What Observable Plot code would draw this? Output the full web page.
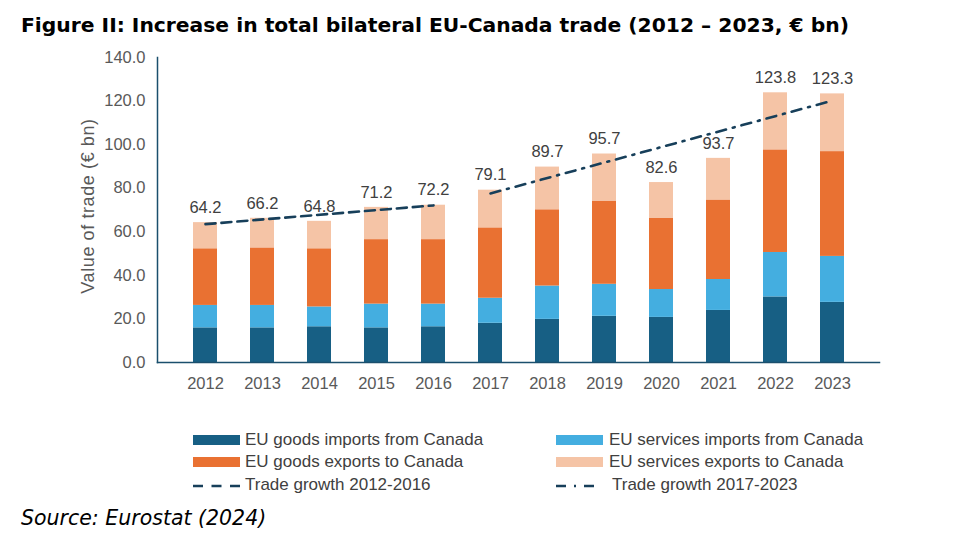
<!DOCTYPE html>
<html>
<head>
<meta charset="utf-8">
<script src="https://cdn.jsdelivr.net/npm/d3@7"></script>
<script src="https://cdn.jsdelivr.net/npm/@observablehq/plot@0.6"></script>
<style>
  body { margin: 0; background: #fff; }
  #wrap { position: relative; width: 957px; height: 544px; overflow: hidden; }
  #title { position: absolute; left: 21px; top: 13px; font-family: "DejaVu Sans", Verdana, sans-serif; font-weight: bold; font-size: 20.3px; color: #000; white-space: nowrap; }
  #chart { position: absolute; left: 0; top: 0; }
  #ylabel { position: absolute; left: 88px; top: 206px; transform: translate(-50%, -50%) rotate(-90deg); font-family: "Liberation Sans", Arial, sans-serif; font-size: 18px; letter-spacing: 0.6px; color: #595959; white-space: nowrap; }
  .leg { position: absolute; font-family: "Liberation Sans", Arial, sans-serif; font-size: 17px; color: #404040; white-space: nowrap; display: flex; align-items: center; }
  .sw { display: inline-block; width: 47px; height: 10px; }
  #source { position: absolute; left: 21px; top: 506px; font-family: "DejaVu Sans", Verdana, sans-serif; font-style: italic; font-size: 20.5px; color: #000; white-space: nowrap; }
</style>
</head>
<body>
<div id="wrap">
  <div id="chart"></div>
  <div id="title">Figure II: Increase in total bilateral EU-Canada trade (2012 – 2023, € bn)</div>
  <div id="ylabel">Value of trade (€ bn)</div>
  <div id="legend"></div>
  <div id="source">Source: Eurostat (2024)</div>
</div>
<script>
const years = ["2012","2013","2014","2015","2016","2017","2018","2019","2020","2021","2022","2023"];
const seriesNames = ["EU goods imports from Canada","EU services imports from Canada","EU goods exports to Canada","EU services exports to Canada"];
const seriesColors = ["#175f84","#44aee0","#e97132","#f5c4a6"];
const goodsImports    = [15.9,15.9,16.4,15.9,16.4,18.0,19.8,21.2,20.7,23.9,30.1,27.6];
const servicesImports = [10.3,10.3, 9.1,10.9,10.4,11.5,15.3,14.7,12.8,14.2,20.4,21.1];
const goodsExports    = [26.0,26.4,26.7,29.6,29.6,32.3,35.0,38.2,32.6,36.5,47.1,48.1];
const servicesExports = [12.0,13.6,12.6,14.8,15.8,17.3,19.6,21.6,16.5,19.1,26.2,26.5];
const totals          = [64.2,66.2,64.8,71.2,72.2,79.1,89.7,95.7,82.6,93.7,123.8,123.3];
const trend1Years  = ["2012","2016"];
const trend1Values = [63.5,72.1];
const trend2Years  = ["2017","2023"];
const trend2Values = [77.6,120.2];
const yTicks = [0,20,40,60,80,100,120,140];
const trendNames = ["Trade growth 2012-2016","Trade growth 2017-2023"];

const seriesValues = [goodsImports, servicesImports, goodsExports, servicesExports];
const bars = [];
seriesValues.forEach((vals, s) => vals.forEach((v, i) => bars.push({year: years[i], series: seriesNames[s], value: v})));
const totalRows = years.map((y, i) => ({year: y, total: totals[i]}));
const t1 = trend1Years.map((y, i) => ({year: y, value: trend1Values[i]}));
const t2 = trend2Years.map((y, i) => ({year: y, value: trend2Values[i]}));
const lineColor = "#173f5a";

const plot = Plot.plot({
  width: 957,
  height: 400,
  marginTop: 57,
  marginBottom: 38,
  marginLeft: 157,
  marginRight: 78,
  style: {fontFamily: "'Liberation Sans', Arial, sans-serif", fontSize: "16.5px", color: "#595959", background: "transparent"},
  x: {domain: years, padding: 0.585, label: null, tickSize: 0, tickPadding: 15},
  y: {domain: [0, 140], ticks: yTicks, tickFormat: d3.format(".1f"), label: null, tickSize: 0, tickPadding: 12},
  color: {domain: seriesNames, range: seriesColors},
  marks: [
    Plot.barY(bars, {x: "year", y: "value", fill: "series", order: seriesNames}),
    Plot.frame({anchor: "left", stroke: "#1b4f6d", strokeWidth: 1.5}),
    Plot.frame({anchor: "bottom", stroke: "#1b4f6d", strokeWidth: 1.5}),
    Plot.line(t1, {x: "year", y: "value", stroke: lineColor, strokeWidth: 2.6, strokeDasharray: "10,6"}),
    Plot.line(t2, {x: "year", y: "value", stroke: lineColor, strokeWidth: 2.6, strokeDasharray: "10,7,2,7"}),
    Plot.text(totalRows, {x: "year", y: "total", text: d => d.total.toFixed(1), dy: -15, fontSize: 16.5, fill: "#404040"})
  ]
});
document.getElementById("chart").appendChild(plot);

// legend
const legend = document.getElementById("legend");
const rowsY = [440, 462, 485];
const colsX = [193, 556];
const items = [
  {type: "sw", i: 0, col: 0, row: 0, gap: 5},
  {type: "sw", i: 1, col: 1, row: 0, gap: 6},
  {type: "sw", i: 2, col: 0, row: 1, gap: 5},
  {type: "sw", i: 3, col: 1, row: 1, gap: 6},
  {type: "ln", i: 0, col: 0, row: 2, dash: "10,8.5", w: 47, gap: 5},
  {type: "ln", i: 1, col: 1, row: 2, dash: "10,8,2,8", w: 40, gap: 16}
];
items.forEach(it => {
  const d = document.createElement("div");
  d.className = "leg";
  d.style.left = colsX[it.col] + "px";
  d.style.top = (rowsY[it.row] - 10) + "px";
  d.style.height = "20px";
  if (it.type === "sw") {
    const s = document.createElement("span");
    s.className = "sw";
    s.style.background = seriesColors[it.i];
    s.style.marginRight = it.gap + "px";
    d.appendChild(s);
    d.appendChild(document.createTextNode(seriesNames[it.i]));
  } else {
    const ns = "http://www.w3.org/2000/svg";
    const svg = document.createElementNS(ns, "svg");
    svg.setAttribute("width", it.w);
    svg.setAttribute("height", 12);
    svg.style.marginRight = it.gap + "px";
    const l = document.createElementNS(ns, "line");
    l.setAttribute("x1", 0); l.setAttribute("x2", it.w);
    l.setAttribute("y1", 7); l.setAttribute("y2", 7);
    l.setAttribute("stroke", lineColor); l.setAttribute("stroke-width", 2.6);
    l.setAttribute("stroke-dasharray", it.dash);
    svg.appendChild(l);
    d.appendChild(svg);
    d.appendChild(document.createTextNode(trendNames[it.i]));
  }
  legend.appendChild(d);
});
</script>
</body>
</html>
